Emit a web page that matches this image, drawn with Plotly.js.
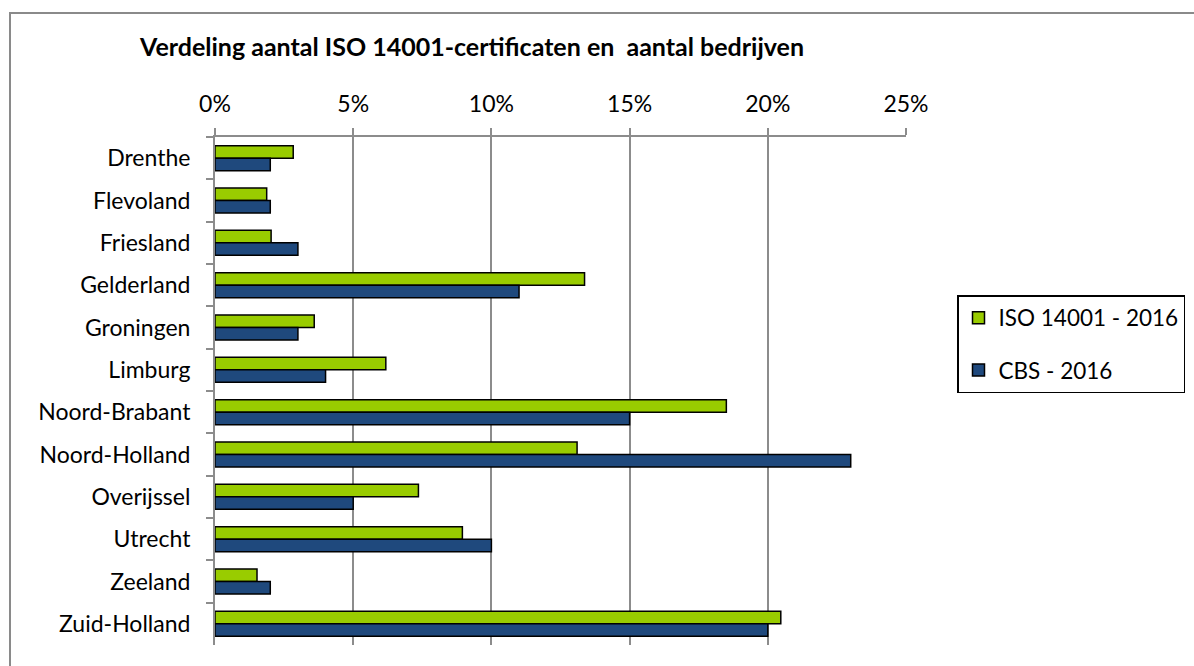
<!DOCTYPE html>
<html>
<head>
<meta charset="utf-8">
<script src="https://cdn.plot.ly/plotly-3.0.1.min.js"></script>
<style>
  html, body { margin: 0; padding: 0; background: #fff; }
  #wrap { position: relative; width: 1194px; height: 666px; overflow: hidden; }
  #chart { position: absolute; left: 0; top: 0; width: 1194px; height: 666px; }
  #frame { position: absolute; left: 9px; top: 12px; width: 1200px; height: 700px;
           border: 2px solid #8a8a8a; pointer-events: none; box-sizing: border-box; }
</style>
</head>
<body>
<div id="wrap">
  <div id="chart"></div>
  <div id="frame"></div>
</div>
<script>
const categories = ["Drenthe", "Flevoland", "Friesland", "Gelderland", "Groningen", "Limburg",
  "Noord-Brabant", "Noord-Holland", "Overijssel", "Utrecht", "Zeeland", "Zuid-Holland"];
const isoValues = [2.83, 1.87, 2.03, 13.37, 3.59, 6.18, 18.5, 13.1, 7.36, 8.95, 1.52, 20.47];
const cbsValues = [2.0, 2.0, 3.0, 11.0, 3.0, 4.0, 15.0, 23.0, 5.0, 10.0, 2.0, 20.0];
const seriesNames = ["ISO 14001 - 2016", "CBS - 2016"];
const xTicks = [0, 5, 10, 15, 20, 25];
const xTickLabels = ["0%", "5%", "10%", "15%", "20%", "25%"];
const chartTitle = "Verdeling aantal ISO 14001-certificaten en\u00a0 aantal bedrijven";

const FONT = "Lato, 'Open Sans', sans-serif";

const traces = [
  {
    type: "bar", orientation: "h", name: seriesNames[0],
    y: categories, x: isoValues,
    marker: { color: "#99CC00", line: { color: "#000000", width: 1.5 } },
    legendgroup: "a", hoverinfo: "x+y"
  },
  {
    type: "bar", orientation: "h", name: seriesNames[1],
    y: categories, x: cbsValues,
    marker: { color: "#1F497D", line: { color: "#000000", width: 1.5 } },
    legendgroup: "b", hoverinfo: "x+y"
  }
];

const layout = {
  width: 1194, height: 666,
  paper_bgcolor: "rgba(0,0,0,0)", plot_bgcolor: "rgba(0,0,0,0)",
  margin: { l: 215, r: 288, t: 137, b: 21, pad: 0, autoexpand: false },
  font: { family: FONT, size: 23, color: "#000" },
  title: {
    text: "<b>" + chartTitle + "</b>",
    font: { family: FONT, size: 25, color: "#000" },
    xref: "container", yref: "container",
    x: 140 / 1194, xanchor: "left",
    y: 1 - 47 / 666, yanchor: "middle"
  },
  barmode: "group",
  bargap: 0.41, bargroupgap: 0,
  xaxis: {
    side: "top",
    range: [0, 25],
    tickvals: xTicks,
    ticktext: xTickLabels,
    showgrid: true, gridcolor: "#8c8c8c", gridwidth: 2,
    zeroline: false,
    showline: true, linecolor: "#8c8c8c", linewidth: 2,
    ticks: "outside", ticklen: 7, tickwidth: 2, tickcolor: "#8c8c8c",
    ticklabelstandoff: 7,
    tickfont: { family: FONT, size: 23, color: "#000" },
    fixedrange: true
  },
  yaxis: {
    type: "category",
    autorange: "reversed",
    showgrid: false, zeroline: false,
    showline: true, linecolor: "#8c8c8c", linewidth: 2,
    ticks: "outside", ticklen: 7, tickwidth: 2, tickcolor: "#8c8c8c",
    tickson: "boundaries",
    ticklabelstandoff: 18,
    tickfont: { family: FONT, size: 23, color: "#000" },
    fixedrange: true
  },
  showlegend: true,
  legend: {
    xref: "container", yref: "container",
    x: 957 / 1194, xanchor: "left",
    y: 1 - 295 / 666, yanchor: "top",
    bordercolor: "#000", borderwidth: 1.5,
    bgcolor: "#fff",
    traceorder: "grouped", tracegroupgap: 20,
    font: { family: FONT, size: 22.5, color: "#000" },
    itemwidth: 30
  }
};

Plotly.newPlot("chart", traces, layout, { displayModeBar: false, staticPlot: true });
</script>
</body>
</html>
